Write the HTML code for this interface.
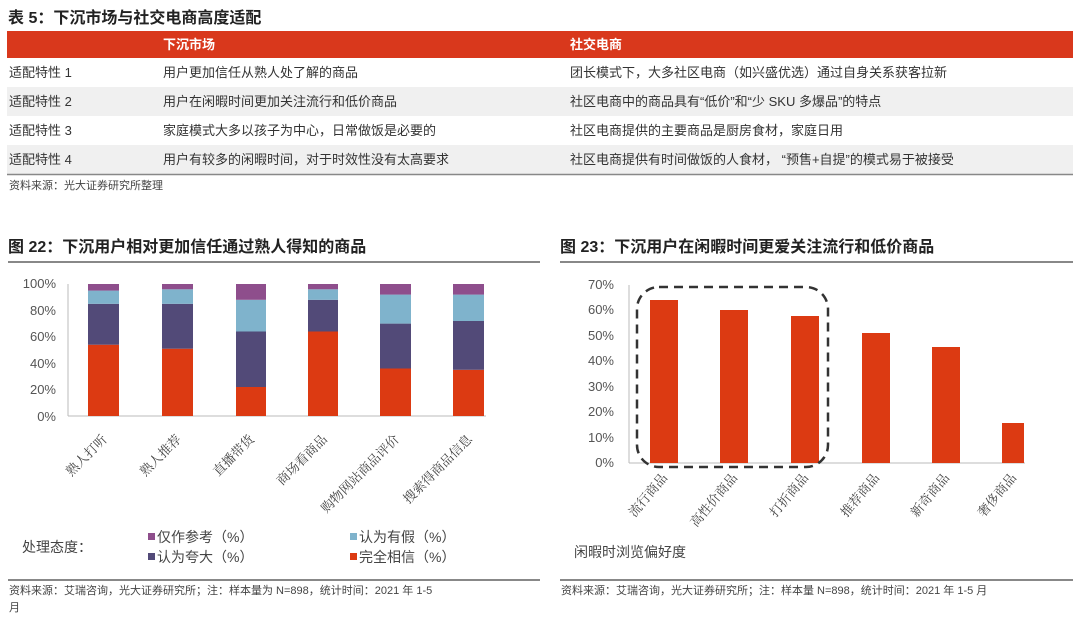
<!DOCTYPE html>
<html><head><meta charset="utf-8"><style>
body{margin:0;background:#fff;}
svg{display:block;font-family:"Liberation Sans","Noto Sans CJK SC",sans-serif;}
</style></head><body>
<svg width="1080" height="623" viewBox="0 0 1080 623">
<rect width="1080" height="623" fill="#fff"/>
<text x="8" y="23" font-size="16" font-weight="bold" fill="#222">表 5：下沉市场与社交电商高度适配</text>
<rect x="7" y="31" width="1066" height="27" fill="#d9381c"/>
<text x="163" y="49" font-size="13" font-weight="bold" fill="#fff">下沉市场</text>
<text x="570" y="49" font-size="13" font-weight="bold" fill="#fff">社交电商</text>
<rect x="7" y="87" width="1066" height="29" fill="#f0f0f0"/>
<rect x="7" y="145" width="1066" height="29" fill="#f0f0f0"/>
<g font-size="13" fill="#333">
<text x="9" y="77">适配特性 1</text><text x="163" y="77">用户更加信任从熟人处了解的商品</text><text x="570" y="77">团长模式下，大多社区电商（如兴盛优选）通过自身关系获客拉新</text>
<text x="9" y="106">适配特性 2</text><text x="163" y="106">用户在闲暇时间更加关注流行和低价商品</text><text x="570" y="106">社区电商中的商品具有“低价”和“少 SKU 多爆品”的特点</text>
<text x="9" y="135">适配特性 3</text><text x="163" y="135">家庭模式大多以孩子为中心，日常做饭是必要的</text><text x="570" y="135">社区电商提供的主要商品是厨房食材，家庭日用</text>
<text x="9" y="164">适配特性 4</text><text x="163" y="164">用户有较多的闲暇时间，对于时效性没有太高要求</text><text x="570" y="164">社区电商提供有时间做饭的人食材，  “预售+自提”的模式易于被接受</text>
</g>
<line x1="7" y1="174.5" x2="1073" y2="174.5" stroke="#888" stroke-width="1.5"/>
<text x="9" y="189" font-size="11" fill="#444">资料来源：光大证券研究所整理</text>

<text x="8" y="252" font-size="16" font-weight="bold" fill="#222">图 22：下沉用户相对更加信任通过熟人得知的商品</text>
<text x="560" y="252" font-size="16" font-weight="bold" fill="#222">图 23：下沉用户在闲暇时间更爱关注流行和低价商品</text>
<line x1="8" y1="262" x2="540" y2="262" stroke="#888" stroke-width="2"/>
<line x1="560" y1="262" x2="1073" y2="262" stroke="#888" stroke-width="2"/>

<g font-size="13" fill="#555" text-anchor="end">
<text x="56" y="288">100%</text><text x="56" y="315">80%</text><text x="56" y="341">60%</text><text x="56" y="368">40%</text><text x="56" y="394">20%</text><text x="56" y="421">0%</text>
</g>
<line x1="68" y1="284" x2="68" y2="416" stroke="#bbb"/>
<line x1="68" y1="416" x2="486" y2="416" stroke="#bbb"/>
<g>
<rect x="88" y="344.7" width="31" height="71.3" fill="#dc3a12"/><rect x="88" y="303.8" width="31" height="40.9" fill="#524a78"/><rect x="88" y="290.6" width="31" height="13.2" fill="#7fb3cc"/><rect x="88" y="284" width="31" height="6.6" fill="#8e4e8c"/>
<rect x="162" y="348.7" width="31" height="67.3" fill="#dc3a12"/><rect x="162" y="303.8" width="31" height="44.9" fill="#524a78"/><rect x="162" y="289.3" width="31" height="14.5" fill="#7fb3cc"/><rect x="162" y="284" width="31" height="5.3" fill="#8e4e8c"/>
<rect x="236" y="387" width="30" height="29" fill="#dc3a12"/><rect x="236" y="331.5" width="30" height="55.5" fill="#524a78"/><rect x="236" y="299.8" width="30" height="31.7" fill="#7fb3cc"/><rect x="236" y="284" width="30" height="15.8" fill="#8e4e8c"/>
<rect x="308" y="331.5" width="30" height="84.5" fill="#dc3a12"/><rect x="308" y="299.8" width="30" height="31.7" fill="#524a78"/><rect x="308" y="289.3" width="30" height="10.5" fill="#7fb3cc"/><rect x="308" y="284" width="30" height="5.3" fill="#8e4e8c"/>
<rect x="380" y="368.5" width="31" height="47.5" fill="#dc3a12"/><rect x="380" y="323.6" width="31" height="44.9" fill="#524a78"/><rect x="380" y="294.6" width="31" height="29" fill="#7fb3cc"/><rect x="380" y="284" width="31" height="10.6" fill="#8e4e8c"/>
<rect x="453" y="369.8" width="31" height="46.2" fill="#dc3a12"/><rect x="453" y="321" width="31" height="48.8" fill="#524a78"/><rect x="453" y="294.6" width="31" height="26.4" fill="#7fb3cc"/><rect x="453" y="284" width="31" height="10.6" fill="#8e4e8c"/>
</g>
<g font-size="13" fill="#444" font-family="'Noto Serif CJK SC',serif" text-anchor="end">
<text transform="translate(108,440) rotate(-45)">熟人打听</text>
<text transform="translate(182,440) rotate(-45)">熟人推荐</text>
<text transform="translate(255,440) rotate(-45)">直播带货</text>
<text transform="translate(328,440) rotate(-45)">商场看商品</text>
<text transform="translate(400,440) rotate(-45)">购物网站商品评价</text>
<text transform="translate(473,440) rotate(-45)">搜索得商品信息</text>
</g>
<text x="22" y="552" font-size="14" fill="#444">处理态度：</text>
<g font-size="14" fill="#444">
<rect x="148" y="533" width="7" height="7" fill="#8e4e8c"/><text x="157" y="542">仅作参考（%）</text>
<rect x="148" y="553" width="7" height="7" fill="#524a78"/><text x="157" y="562">认为夸大（%）</text>
<rect x="350" y="533" width="7" height="7" fill="#7fb3cc"/><text x="359" y="542">认为有假（%）</text>
<rect x="350" y="553" width="7" height="7" fill="#dc3a12"/><text x="359" y="562">完全相信（%）</text>
</g>

<g font-size="13" fill="#555" text-anchor="end">
<text x="614" y="289">70%</text><text x="614" y="314">60%</text><text x="614" y="340">50%</text><text x="614" y="365">40%</text><text x="614" y="391">30%</text><text x="614" y="416">20%</text><text x="614" y="442">10%</text><text x="614" y="467">0%</text>
</g>
<line x1="629" y1="285" x2="629" y2="463" stroke="#bbb"/>
<line x1="629" y1="463" x2="1025" y2="463" stroke="#bbb"/>
<g fill="#dc3a12">
<rect x="650" y="300" width="28" height="163"/>
<rect x="720" y="310" width="28" height="153"/>
<rect x="791" y="316" width="28" height="147"/>
<rect x="862" y="333" width="28" height="130"/>
<rect x="932" y="347" width="28" height="116"/>
<rect x="1002" y="423" width="22" height="40"/>
</g>
<rect x="637" y="287" width="191" height="180" rx="22" fill="none" stroke="#333" stroke-width="2.5" stroke-dasharray="9,6"/>
<g font-size="13" fill="#444" font-family="'Noto Serif CJK SC',serif" text-anchor="end">
<text transform="translate(668,478) rotate(-50)">流行商品</text>
<text transform="translate(738,478) rotate(-50)">高性价商品</text>
<text transform="translate(809,478) rotate(-50)">打折商品</text>
<text transform="translate(880,478) rotate(-50)">推荐商品</text>
<text transform="translate(950,478) rotate(-50)">新奇商品</text>
<text transform="translate(1017,478) rotate(-50)">奢侈商品</text>
</g>
<text x="574" y="557" font-size="14" fill="#444">闲暇时浏览偏好度</text>

<line x1="8" y1="580" x2="540" y2="580" stroke="#888" stroke-width="2"/>
<line x1="560" y1="580" x2="1073" y2="580" stroke="#888" stroke-width="2"/>
<g font-size="11" fill="#444">
<text x="9" y="594">资料来源：艾瑞咨询，光大证券研究所；注：样本量为 N=898，统计时间：2021 年 1-5</text>
<text x="9" y="611">月</text>
<text x="561" y="594">资料来源：艾瑞咨询，光大证券研究所；注：样本量 N=898，统计时间：2021 年 1-5 月</text>
</g>
</svg>
</body></html>
